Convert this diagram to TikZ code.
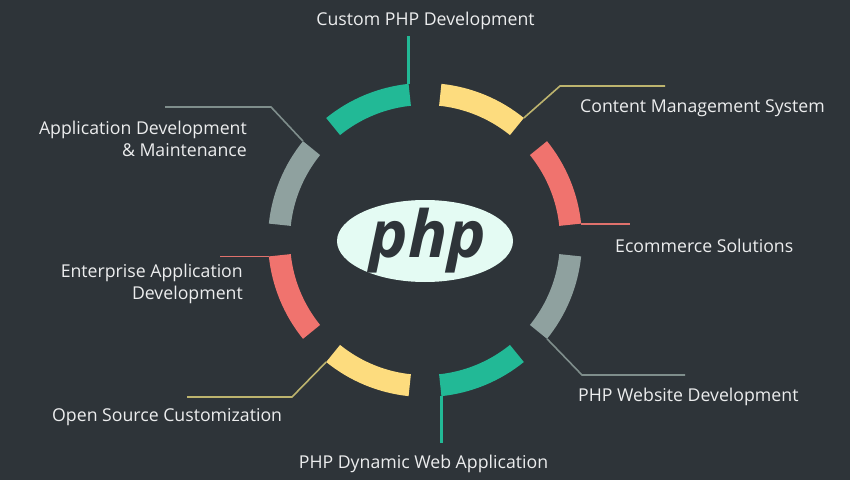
\documentclass[tikz,border=0pt]{standalone}
\usepackage{fontspec}
\setmainfont{Open Sans}
\usetikzlibrary{shapes.geometric}
\definecolor{bg}{HTML}{2E3439}
\definecolor{cteal}{HTML}{22B996}
\definecolor{cyel}{HTML}{FDDC7E}
\definecolor{cred}{HTML}{F0736E}
\definecolor{cgray}{HTML}{8FA19F}
\definecolor{lteal}{HTML}{22B996}
\definecolor{lyel}{HTML}{BDB46E}
\definecolor{lred}{HTML}{E0716C}
\definecolor{lgray}{HTML}{7F8E8C}
\definecolor{txt}{HTML}{ECEDEE}
\definecolor{ell}{HTML}{E4FBF3}
\begin{document}
\begin{tikzpicture}[x=1pt,y=1pt,
  lbl/.style={text=txt, font=\fontsize{17.7}{22}\selectfont, inner sep=0pt},
  lead/.style={line width=1.6pt},
  vlead/.style={line width=3pt},
]
\fill[bg] (0,0) rectangle (850,480);
\useasboundingbox (0,0) rectangle (850,480);
% ring segments
\begin{scope}[shift={(425,240)}]
\foreach \c/\col in {22.5/cred,67.5/cyel,112.5/cteal,157.5/cgray,202.5/cred,247.5/cyel,292.5/cteal,337.5/cgray}{
  \fill[\col] (\c-16.5:157) arc[start angle=\c-16.5,end angle=\c+16.5,radius=157]
    -- (\c+16.5:135) arc[start angle=\c+16.5,end angle=\c-16.5,radius=135] -- cycle;
}
\end{scope}
% logo
\node (logo) [ellipse, fill=ell, minimum width=176pt, minimum height=82pt, inner sep=0pt] at (425,239) {};
\node (phptxt) at (428,239) [text=bg, inner sep=0pt, font=\fontsize{65}{65}\selectfont\bfseries\itshape] {php};
% arc end points and bends
\coordinate (e1) at (408.6,396.1); \coordinate (t1) at (408.6,444);
\coordinate (e2) at (523.8,362.0); \coordinate (b2) at (560,394); \coordinate (t2) at (665,394);
\coordinate (e3) at (581.1,256.0); \coordinate (t3) at (630,256.0);
\coordinate (e4) at (547.0,141.2); \coordinate (b4) at (582,105); \coordinate (t4) at (685,105);
\coordinate (e5) at (441.4,83.9);  \coordinate (t5) at (441.4,37);
\coordinate (e6) at (326.2,118.0); \coordinate (b6) at (292,83); \coordinate (t6) at (187,83);
\coordinate (e7) at (268.9,223.6); \coordinate (t7) at (220,223.6);
\coordinate (e8) at (303.0,338.8); \coordinate (b8) at (271,373); \coordinate (t8) at (165,373);
% leaders
\draw[vlead,lteal] (e1) -- (t1);
\draw[lead,lyel] (e2) -- (b2) -- (t2);
\draw[lead,lred] (e3) -- (t3);
\draw[lead,lgray] (e4) -- (b4) -- (t4);
\draw[vlead,lteal] (e5) -- (t5);
\draw[lead,lyel] (e6) -- (b6) -- (t6);
\draw[lead,lred] (e7) -- (t7);
\draw[lead,lgray] (e8) -- (b8) -- (t8);
% labels
\node[lbl] (l1) at (425.5,459) {Custom PHP Development};
\node[lbl,anchor=west] (l2) at (580,371.5) {Content Management System};
\node[lbl,anchor=west] (l3) at (615,234) {Ecommerce Solutions};
\node[lbl,anchor=west] (l4) at (578,83.5) {PHP Website Development};
\node[lbl] (l5) at (423.5,16) {PHP Dynamic Web Application};
\node[lbl,anchor=west] (l6) at (52,62.5) {Open Source Customization};
\node[lbl,anchor=east,align=right] (l7) at (243,196.5) {Enterprise Application\\Development};
\node[lbl,anchor=east,align=right] (l8) at (247,341) {Application Development\\\& Maintenance};
\end{tikzpicture}
\end{document}
